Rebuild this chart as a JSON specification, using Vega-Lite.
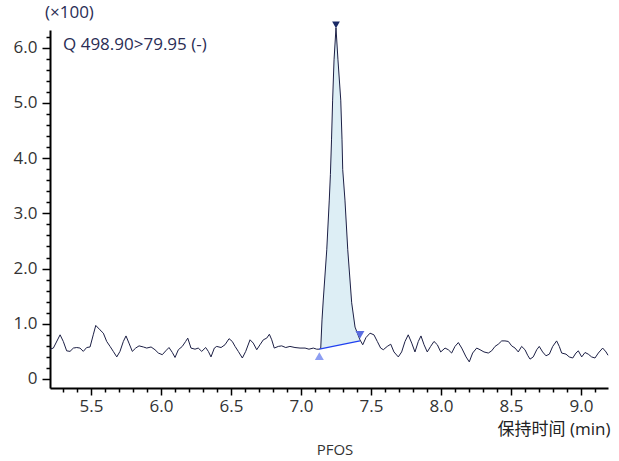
{
  "$schema": "https://vega.github.io/schema/vega-lite/v6.json",
  "width": 558,
  "height": 358,
  "autosize": "none",
  "padding": {"left": 50, "top": 30, "right": 11, "bottom": 73},
  "background": "white",
  "title": {"text": "PFOS", "orient": "bottom", "anchor": "middle", "font": "Open Sans", "fontSize": 15, "fontWeight": "normal", "color": "#333333", "offset": 6, "dx": 6},
  "config": {"view": {"stroke": null}},
  "datasets": {
    "trace": [
      {"t": 5.207, "v": 0.54}, {"t": 5.231, "v": 0.56}, {"t": 5.279, "v": 0.80}, {"t": 5.302, "v": 0.68}, {"t": 5.326, "v": 0.51}, {"t": 5.35, "v": 0.50}, {"t": 5.374, "v": 0.56}, {"t": 5.398, "v": 0.57}, {"t": 5.421, "v": 0.56}, {"t": 5.445, "v": 0.50}, {"t": 5.469, "v": 0.57}, {"t": 5.493, "v": 0.58}, {"t": 5.516, "v": 0.80}, {"t": 5.534, "v": 0.97}, {"t": 5.564, "v": 0.89}, {"t": 5.588, "v": 0.83}, {"t": 5.612, "v": 0.68}, {"t": 5.636, "v": 0.59}, {"t": 5.659, "v": 0.50}, {"t": 5.684, "v": 0.40}, {"t": 5.707, "v": 0.50}, {"t": 5.731, "v": 0.68}, {"t": 5.75, "v": 0.78}, {"t": 5.771, "v": 0.65}, {"t": 5.795, "v": 0.50}, {"t": 5.819, "v": 0.56}, {"t": 5.843, "v": 0.60}, {"t": 5.874, "v": 0.58}, {"t": 5.898, "v": 0.56}, {"t": 5.929, "v": 0.58}, {"t": 5.957, "v": 0.53}, {"t": 5.981, "v": 0.47}, {"t": 6.009, "v": 0.44}, {"t": 6.034, "v": 0.51}, {"t": 6.057, "v": 0.57}, {"t": 6.081, "v": 0.48}, {"t": 6.1, "v": 0.39}, {"t": 6.124, "v": 0.53}, {"t": 6.152, "v": 0.59}, {"t": 6.176, "v": 0.68}, {"t": 6.191, "v": 0.74},
      {"t": 6.214, "v": 0.56}, {"t": 6.243, "v": 0.54}, {"t": 6.266, "v": 0.56}, {"t": 6.291, "v": 0.50}, {"t": 6.319, "v": 0.57}, {"t": 6.338, "v": 0.50}, {"t": 6.357, "v": 0.40}, {"t": 6.381, "v": 0.56}, {"t": 6.398, "v": 0.59}, {"t": 6.429, "v": 0.57}, {"t": 6.457, "v": 0.62}, {"t": 6.486, "v": 0.73}, {"t": 6.509, "v": 0.68}, {"t": 6.529, "v": 0.59}, {"t": 6.552, "v": 0.50}, {"t": 6.581, "v": 0.38}, {"t": 6.605, "v": 0.50}, {"t": 6.636, "v": 0.71}, {"t": 6.659, "v": 0.65}, {"t": 6.684, "v": 0.53}, {"t": 6.707, "v": 0.62}, {"t": 6.731, "v": 0.71}, {"t": 6.755, "v": 0.74}, {"t": 6.774, "v": 0.81}, {"t": 6.791, "v": 0.71}, {"t": 6.809, "v": 0.56}, {"t": 6.838, "v": 0.59}, {"t": 6.862, "v": 0.60}, {"t": 6.891, "v": 0.57}, {"t": 6.921, "v": 0.59}, {"t": 6.957, "v": 0.57}, {"t": 6.993, "v": 0.56}, {"t": 7.029, "v": 0.56}, {"t": 7.057, "v": 0.54}, {"t": 7.088, "v": 0.56}, {"t": 7.112, "v": 0.54}, {"t": 7.131, "v": 0.54},
      {"t": 7.141, "v": 0.56}, {"t": 7.15, "v": 1.07}, {"t": 7.159, "v": 1.43}, {"t": 7.184, "v": 2.34}, {"t": 7.202, "v": 3.24}, {"t": 7.21, "v": 3.70}, {"t": 7.218, "v": 4.33}, {"t": 7.226, "v": 5.05}, {"t": 7.236, "v": 5.78}, {"t": 7.25, "v": 6.36}, {"t": 7.264, "v": 5.78}, {"t": 7.284, "v": 5.05}, {"t": 7.293, "v": 4.33}, {"t": 7.298, "v": 3.79}, {"t": 7.314, "v": 3.24}, {"t": 7.334, "v": 2.34}, {"t": 7.362, "v": 1.38}, {"t": 7.386, "v": 0.94}, {"t": 7.421, "v": 0.71},
      {"t": 7.441, "v": 0.62}, {"t": 7.464, "v": 0.75}, {"t": 7.493, "v": 0.83}, {"t": 7.521, "v": 0.80}, {"t": 7.545, "v": 0.68}, {"t": 7.569, "v": 0.56}, {"t": 7.588, "v": 0.53}, {"t": 7.616, "v": 0.59}, {"t": 7.641, "v": 0.63}, {"t": 7.664, "v": 0.49}, {"t": 7.695, "v": 0.40}, {"t": 7.719, "v": 0.49}, {"t": 7.743, "v": 0.68}, {"t": 7.766, "v": 0.80}, {"t": 7.791, "v": 0.65}, {"t": 7.814, "v": 0.49}, {"t": 7.838, "v": 0.68}, {"t": 7.857, "v": 0.78}, {"t": 7.879, "v": 0.62}, {"t": 7.902, "v": 0.49}, {"t": 7.926, "v": 0.59}, {"t": 7.95, "v": 0.68}, {"t": 7.974, "v": 0.62}, {"t": 7.998, "v": 0.49}, {"t": 8.029, "v": 0.56}, {"t": 8.052, "v": 0.53}, {"t": 8.076, "v": 0.47}, {"t": 8.1, "v": 0.59}, {"t": 8.124, "v": 0.66}, {"t": 8.148, "v": 0.56}, {"t": 8.179, "v": 0.40}, {"t": 8.202, "v": 0.31}, {"t": 8.226, "v": 0.47}, {"t": 8.255, "v": 0.56},
      {"t": 8.279, "v": 0.53}, {"t": 8.307, "v": 0.49}, {"t": 8.338, "v": 0.47}, {"t": 8.362, "v": 0.51}, {"t": 8.386, "v": 0.59}, {"t": 8.409, "v": 0.63}, {"t": 8.434, "v": 0.69}, {"t": 8.457, "v": 0.69}, {"t": 8.481, "v": 0.68}, {"t": 8.505, "v": 0.60}, {"t": 8.529, "v": 0.56}, {"t": 8.552, "v": 0.49}, {"t": 8.576, "v": 0.59}, {"t": 8.6, "v": 0.53}, {"t": 8.619, "v": 0.43}, {"t": 8.636, "v": 0.36}, {"t": 8.659, "v": 0.40}, {"t": 8.684, "v": 0.53}, {"t": 8.702, "v": 0.59}, {"t": 8.726, "v": 0.49}, {"t": 8.75, "v": 0.42}, {"t": 8.774, "v": 0.45}, {"t": 8.798, "v": 0.59}, {"t": 8.826, "v": 0.69}, {"t": 8.845, "v": 0.59}, {"t": 8.862, "v": 0.47}, {"t": 8.893, "v": 0.45}, {"t": 8.916, "v": 0.40}, {"t": 8.941, "v": 0.38}, {"t": 8.964, "v": 0.47}, {"t": 8.981, "v": 0.51}, {"t": 9.005, "v": 0.40}, {"t": 9.029, "v": 0.48}, {"t": 9.052, "v": 0.45}, {"t": 9.076, "v": 0.40}, {"t": 9.1, "v": 0.38}, {"t": 9.124, "v": 0.47}, {"t": 9.155, "v": 0.56}, {"t": 9.179, "v": 0.49}, {"t": 9.193, "v": 0.43}
    ],
    "peak": [
      {"t": 7.131, "v": 0.54, "base": 0.54}, {"t": 7.141, "v": 0.56, "base": 0.545}, {"t": 7.15, "v": 1.07, "base": 0.55}, {"t": 7.159, "v": 1.43, "base": 0.554}, {"t": 7.184, "v": 2.34, "base": 0.567}, {"t": 7.202, "v": 3.24, "base": 0.577}, {"t": 7.21, "v": 3.70, "base": 0.581}, {"t": 7.218, "v": 4.33, "base": 0.585}, {"t": 7.226, "v": 5.05, "base": 0.589}, {"t": 7.236, "v": 5.78, "base": 0.594}, {"t": 7.25, "v": 6.36, "base": 0.602}, {"t": 7.264, "v": 5.78, "base": 0.609}, {"t": 7.284, "v": 5.05, "base": 0.619}, {"t": 7.293, "v": 4.33, "base": 0.624}, {"t": 7.298, "v": 3.79, "base": 0.626}, {"t": 7.314, "v": 3.24, "base": 0.635}, {"t": 7.334, "v": 2.34, "base": 0.645}, {"t": 7.362, "v": 1.38, "base": 0.659}, {"t": 7.386, "v": 0.94, "base": 0.672}, {"t": 7.421, "v": 0.71, "base": 0.69}
    ],
    "baseline": [
      {"t": 7.131, "v": 0.54}, {"t": 7.421, "v": 0.69}
    ],
    "markers": [
      {"t": 7.131, "v": 0.54, "kind": "start"},
      {"t": 7.421, "v": 0.71, "kind": "end"},
      {"t": 7.25, "v": 6.36, "kind": "apex"}
    ],
    "label": [
      {"t": 5.3, "v": 6.05, "text": "Q 498.90>79.95 (-)"},
      {"t": 5.171, "v": 6.63, "text": "(×100)"}
    ]
  },
  "layer": [
    {
      "data": {"name": "peak"},
      "mark": {"type": "area", "color": "#ddeef5", "clip": false},
      "encoding": {
        "x": {"field": "t", "type": "quantitative", "scale": {"domain": [5.207, 9.193], "nice": false, "zero": false},
          "axis": {
            "values": [5.3, 5.4, 5.5, 5.6, 5.7, 5.8, 5.9, 6.0, 6.1, 6.2, 6.3, 6.4, 6.5, 6.6, 6.7, 6.8, 6.9, 7.0, 7.1, 7.2, 7.3, 7.4, 7.5, 7.6, 7.7, 7.8, 7.9, 8.0, 8.1, 8.2, 8.3, 8.4, 8.5, 8.6, 8.7, 8.8, 8.9, 9.0, 9.1],
            "tickCount": 200,
            "labelExpr": "abs(datum.value*2 - round(datum.value*2)) < 0.001 ? format(datum.value, '.1f') : ''",
            "tickSize": {"condition": {"test": "abs(datum.value*2 - round(datum.value*2)) < 0.001", "value": 7}, "value": 4},
            "tickColor": "#000000", "tickWidth": 1.5,
            "domainColor": "#000000", "domainWidth": 2,
            "grid": false,
            "labelFont": "Open Sans", "labelFontSize": 17, "labelColor": "#333333", "labelPadding": 3, "labelDx": 3, "labelFlush": false, "labelOverlap": false,
            "title": "保持时间 (min)",
            "titleFont": "Open Sans, Noto Sans CJK SC", "titleFontSize": 17, "titleFontWeight": "normal", "titleColor": "#222222",
            "titleAnchor": "end", "titleAlign": "right", "titleX": 560, "titleY": 41, "titleBaseline": "middle"
          }
        },
        "y": {"field": "v", "type": "quantitative", "scale": {"domain": [-0.163, 6.32], "nice": false, "zero": false},
          "axis": {
            "values": [0, 0.2, 0.4, 0.6, 0.8, 1.0, 1.2, 1.4, 1.6, 1.8, 2.0, 2.2, 2.4, 2.6, 2.8, 3.0, 3.2, 3.4, 3.6, 3.8, 4.0, 4.2, 4.4, 4.6, 4.8, 5.0, 5.2, 5.4, 5.6, 5.8, 6.0, 6.2],
            "tickCount": 200,
            "labelExpr": "abs(datum.value - round(datum.value)) < 0.001 ? (datum.value == 0 ? '0' : format(datum.value, '.1f')) : ''",
            "tickSize": {"condition": {"test": "abs(datum.value - round(datum.value)) < 0.001", "value": 8}, "value": 4},
            "tickColor": "#000000", "tickWidth": 1.5,
            "domainColor": "#000000", "domainWidth": 2,
            "grid": false,
            "labelFont": "Open Sans", "labelFontSize": 17, "labelColor": "#333333", "labelPadding": 5, "labelDy": 1, "labelFlush": false, "labelOverlap": false,
            "title": null
          }
        },
        "y2": {"field": "base"}
      }
    },
    {
      "data": {"name": "trace"},
      "mark": {"type": "line", "color": "#1c1f45", "strokeWidth": 1, "clip": false},
      "encoding": {
        "x": {"field": "t", "type": "quantitative"},
        "y": {"field": "v", "type": "quantitative"}
      }
    },
    {
      "data": {"name": "baseline"},
      "mark": {"type": "line", "color": "#2040f0", "strokeWidth": 1.2},
      "encoding": {
        "x": {"field": "t", "type": "quantitative"},
        "y": {"field": "v", "type": "quantitative"}
      }
    },
    {
      "data": {"name": "markers"},
      "transform": [{"filter": "datum.kind == 'start'"}],
      "mark": {"type": "point", "shape": "triangle-up", "filled": true, "color": "#8d9ef2", "opacity": 1, "size": 80, "yOffset": 7, "clip": false},
      "encoding": {
        "x": {"field": "t", "type": "quantitative"},
        "y": {"field": "v", "type": "quantitative"}
      }
    },
    {
      "data": {"name": "markers"},
      "transform": [{"filter": "datum.kind == 'end'"}],
      "mark": {"type": "point", "shape": "triangle-down", "filled": true, "color": "#5a6de0", "opacity": 1, "size": 80, "yOffset": -5, "clip": false},
      "encoding": {
        "x": {"field": "t", "type": "quantitative"},
        "y": {"field": "v", "type": "quantitative"}
      }
    },
    {
      "data": {"name": "markers"},
      "transform": [{"filter": "datum.kind == 'apex'"}],
      "mark": {"type": "point", "shape": "triangle-down", "filled": true, "color": "#1a2a66", "opacity": 1, "size": 60, "yOffset": -3, "clip": false},
      "encoding": {
        "x": {"field": "t", "type": "quantitative"},
        "y": {"field": "v", "type": "quantitative"}
      }
    },
    {
      "data": {"name": "label"},
      "mark": {"type": "text", "align": "left", "baseline": "middle", "font": "Open Sans", "fontSize": 17, "color": "#2a2d55", "clip": false},
      "encoding": {
        "x": {"field": "t", "type": "quantitative"},
        "y": {"field": "v", "type": "quantitative"},
        "text": {"field": "text"}
      }
    }
  ]
}
